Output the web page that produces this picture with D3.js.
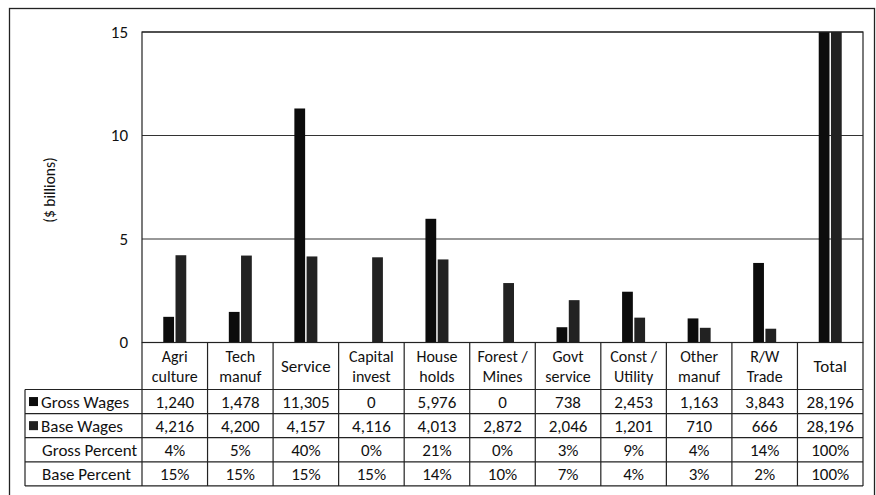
<!DOCTYPE html>
<html>
<head>
<meta charset="utf-8">
<script src="https://cdn.jsdelivr.net/npm/d3@7"></script>
<style>
  html, body { margin: 0; padding: 0; background: #fff; }
  svg text { font-family: Carlito, Lato, "Open Sans", sans-serif; fill: #111; }
</style>
</head>
<body>
<svg id="chart" width="876" height="495"></svg>
<script>
// Wage impact by sector, $ millions
const categories = ["Agri culture", "Tech manuf", "Service", "Capital invest", "House holds",
  "Forest / Mines", "Govt service", "Const / Utility", "Other manuf", "R/W Trade", "Total"];
const categoryLines = [["Agri", "culture"], ["Tech", "manuf"], ["Service"], ["Capital", "invest"],
  ["House", "holds"], ["Forest /", "Mines"], ["Govt", "service"], ["Const /", "Utility"],
  ["Other", "manuf"], ["R/W", "Trade"], ["Total"]];
const series = ["Gross Wages", "Base Wages"];
const grossWages = [1240, 1478, 11305, 0, 5976, 0, 738, 2453, 1163, 3843, 28196];
const baseWages = [4216, 4200, 4157, 4116, 4013, 2872, 2046, 1201, 710, 666, 28196];
const grossPercent = ["4%", "5%", "40%", "0%", "21%", "0%", "3%", "9%", "4%", "14%", "100%"];
const basePercent = ["15%", "15%", "15%", "15%", "14%", "10%", "7%", "4%", "3%", "2%", "100%"];
const yTicks = [0, 5, 10, 15];

const colors = { "Gross Wages": "#0c0c0c", "Base Wages": "#222" };

const svg = d3.select("#chart");
const plot = { left: 142, right: 863, top: 32, bottom: 342.5 };
const tableLeft = 25;
const headerBottom = 389.5;
const rowH = 24.1;
const fs = 17;
const headerFs = 16;
const headerLineGap = 19.5;

const x = d3.scaleBand().domain(categories).range([plot.left, plot.right]);
const xs = d3.scaleBand().domain(series).range([-11.5, 11.5]).paddingInner(0.12);
const y = d3.scaleLinear().domain([0, 15]).range([plot.bottom, plot.top]);

// outer frame
svg.append("rect").attr("x", 9.5).attr("y", 8.5).attr("width", 865).attr("height", 500)
  .attr("fill", "none").attr("stroke", "#222").attr("stroke-width", 1.3);

// gridlines
svg.append("g").selectAll("line").data(yTicks.filter(d => d > 0)).join("line")
  .attr("x1", plot.left).attr("x2", plot.right)
  .attr("y1", d => y(d)).attr("y2", d => y(d))
  .attr("stroke", "#333").attr("stroke-width", 1.1);

// y tick labels
svg.append("g").selectAll("text").data(yTicks).join("text")
  .attr("x", 128).attr("y", d => y(d)).attr("dy", "0.35em")
  .attr("text-anchor", "end").attr("font-size", fs).text(d => d);

// y axis title
svg.append("text").attr("transform", "translate(50,190) rotate(-90)")
  .attr("text-anchor", "middle").attr("dy", "0.35em").attr("font-size", 15.5)
  .text("($ billions)");

// bars, clipped to the plot area
svg.append("clipPath").attr("id", "plotClip").append("rect")
  .attr("x", plot.left).attr("y", plot.top)
  .attr("width", plot.right - plot.left).attr("height", plot.bottom - plot.top);

const barData = [];
categories.forEach((c, i) => {
  barData.push({ cat: c, s: "Gross Wages", v: grossWages[i] / 1000 });
  barData.push({ cat: c, s: "Base Wages", v: baseWages[i] / 1000 });
});
svg.append("g").attr("clip-path", "url(#plotClip)")
  .selectAll("rect").data(barData.filter(d => d.v > 0)).join("rect")
  .attr("x", d => x(d.cat) + x.bandwidth() / 2 + xs(d.s))
  .attr("width", xs.bandwidth())
  .attr("y", d => y(d.v))
  .attr("height", d => y(0) - y(d.v))
  .attr("fill", d => colors[d.s]);

// plot frame
svg.append("rect").attr("x", plot.left).attr("y", plot.top)
  .attr("width", plot.right - plot.left).attr("height", plot.bottom - plot.top)
  .attr("fill", "none").attr("stroke", "#222").attr("stroke-width", 1.2);

// data table
const table = svg.append("g").attr("stroke", "#222").attr("stroke-width", 1.2);
const rowsTop = headerBottom;
const nRows = 4;
const tableBottom = rowsTop + nRows * rowH;
// horizontal rules
for (let r = 0; r <= nRows; r++) {
  table.append("line").attr("x1", tableLeft).attr("x2", plot.right)
    .attr("y1", rowsTop + r * rowH).attr("y2", rowsTop + r * rowH);
}
// category column rules (through header and rows)
const colEdges = categories.map(c => x(c)).concat([plot.right]);
table.selectAll("line.col").data(colEdges).join("line").attr("class", "col")
  .attr("x1", d => d).attr("x2", d => d)
  .attr("y1", plot.bottom).attr("y2", tableBottom);
table.append("line").attr("x1", tableLeft).attr("x2", tableLeft)
  .attr("y1", rowsTop).attr("y2", tableBottom);

// header labels: one text per line
const header = svg.append("g");
categories.forEach((c, i) => {
  const lines = categoryLines[i];
  const cx = x(c) + x.bandwidth() / 2;
  const mid = (plot.bottom + headerBottom) / 2 + 0.5;
  lines.forEach((ln, j) => {
    header.append("text").attr("x", cx)
      .attr("y", mid + (j - (lines.length - 1) / 2) * headerLineGap)
      .attr("dy", "0.35em").attr("text-anchor", "middle")
      .attr("font-size", lines.length > 1 ? headerFs : fs).text(ln);
  });
});

// row labels and values
const fmt = d3.format(",");
const rows = [
  { label: "Gross Wages", key: "Gross Wages", values: grossWages.map(fmt) },
  { label: "Base Wages", key: "Base Wages", values: baseWages.map(fmt) },
  { label: "Gross Percent", key: null, values: grossPercent },
  { label: "Base Percent", key: null, values: basePercent }
];
rows.forEach((row, r) => {
  const cy = rowsTop + r * rowH + rowH / 2;
  if (row.key) {
    svg.append("rect").attr("x", 29).attr("y", cy - 4.5).attr("width", 9).attr("height", 9)
      .attr("fill", colors[row.key]);
  }
  svg.append("text").attr("x", row.key ? 41 : 42).attr("y", cy).attr("dy", "0.35em")
    .attr("font-size", fs).text(row.label);
  svg.append("g").selectAll("text").data(row.values).join("text")
    .attr("x", (d, i) => x(categories[i]) + x.bandwidth() / 2)
    .attr("y", cy).attr("dy", "0.35em").attr("text-anchor", "middle")
    .attr("font-size", fs).text(d => d);
});
</script>
</body>
</html>
